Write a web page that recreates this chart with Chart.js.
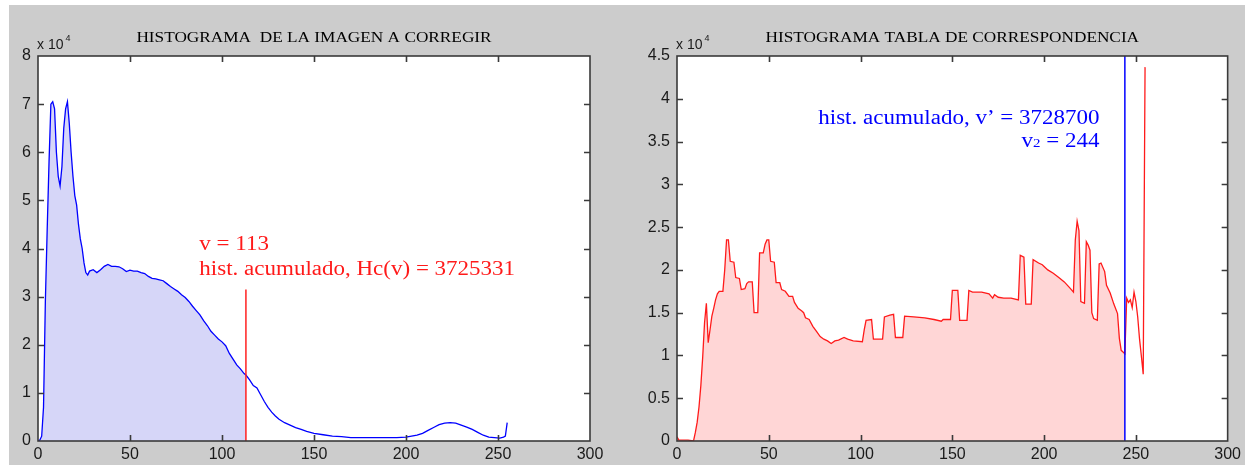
<!DOCTYPE html>
<html lang="es">
<head>
<meta charset="UTF-8">
<title>Histogramas</title>
<script src="https://cdn.jsdelivr.net/npm/chart.js"></script>
<style>
  html, body { margin: 0; padding: 0; background: #fff; width: 1245px; height: 465px; overflow: hidden; }
  #fondo { position: absolute; left: 9px; top: 5px; width: 1236px; height: 460px; background: #cccccc; }
  canvas { position: absolute; top: 5px; }
  #hist1 { left: 9px; }
  #hist2 { left: 627px; }
</style>
</head>
<body>
<div id="fondo"></div>
<canvas id="hist1" width="618" height="460"></canvas>
<canvas id="hist2" width="618" height="460"></canvas>
<script>
// --- datos (cuentas en unidades de 10^4) ---
const nivelesImagen = [0,1,2,3,4,5,6,7,8,9,10,11,12,13,14,15,16,17,18,19,20,21,22,23,24,25,26,27,28,30,32,34,36,38,40,42,44,46,48,50,52,54,56,58,60,62,64,66,68,70,72,74,76,78,80,82,84,86,88,90,92,94,96,98,100,102,104,106,108,110,112,113,115,117,119,121,123,125,127,129,131,134,137,140,143,146,150,155,160,165,170,180,190,195,200,203,206,209,212,215,218,221,224,227,230,233,236,239,242,245,248,251,253,254,255];
const cuentasImagen = [0,0.02,0.1,0.7,2.9,4.4,5.8,7.0,7.05,6.9,6.0,5.5,5.3,5.7,6.5,6.9,7.05,6.6,6.0,5.5,5.1,4.9,4.5,4.2,4.0,3.7,3.5,3.45,3.53,3.56,3.5,3.56,3.63,3.67,3.63,3.63,3.62,3.58,3.52,3.55,3.53,3.53,3.5,3.48,3.42,3.38,3.37,3.35,3.33,3.27,3.21,3.16,3.11,3.04,2.98,2.9,2.8,2.71,2.62,2.5,2.4,2.28,2.2,2.12,2.06,1.98,1.82,1.7,1.58,1.5,1.4,1.37,1.27,1.15,1.1,0.96,0.82,0.7,0.6,0.52,0.45,0.38,0.33,0.28,0.24,0.2,0.16,0.13,0.1,0.09,0.07,0.07,0.07,0.07,0.08,0.1,0.12,0.16,0.22,0.28,0.34,0.37,0.38,0.37,0.33,0.29,0.24,0.18,0.12,0.08,0.07,0.06,0.08,0.1,0.38];

const nivelesTabla = [0,1,6,9,10,11,12,13,14,15,16,17,18,19,20,21,22,23,25,26,27,28,29,31,32,34,35,37,38,39,41,42,44,45,47,48,49,50,51,53,54,56,57,59,61,63,64,66,68,69,70,72,74,76,78,80,82,84,86,88,91,93,96,101,102,103,106,107,112,113,116,118,119,123,124,129,135,140,144,145,149,150,153,154,158,159,161,166,170,172,173,175,178,182,186,187,189,190,193,194,197,199,200,202,205,208,211,214,216,217,218,219,220,222,223,224,225,226,227,229,230,231,233,234,236,238,240,241,242,243,244,245,246,247,248,249,250,251,252,253,254,255];
const cuentasTabla = [0.05,0.01,0.01,0,0.1,0.22,0.4,0.65,0.98,1.38,1.61,1.15,1.3,1.46,1.55,1.65,1.72,1.75,1.75,2.0,2.35,2.35,2.1,2.09,1.91,1.9,1.77,1.78,1.84,1.86,1.86,1.5,1.5,2.2,2.2,2.3,2.35,2.35,2.1,2.09,1.85,1.85,1.77,1.75,1.69,1.69,1.62,1.55,1.52,1.5,1.44,1.42,1.34,1.28,1.22,1.19,1.17,1.14,1.17,1.18,1.21,1.19,1.17,1.16,1.3,1.41,1.42,1.19,1.19,1.45,1.47,1.48,1.21,1.21,1.46,1.45,1.44,1.42,1.4,1.42,1.42,1.76,1.76,1.41,1.41,1.76,1.74,1.74,1.72,1.67,1.71,1.68,1.67,1.67,1.65,2.17,2.15,1.6,1.6,2.12,2.08,2.06,2.04,2.0,1.96,1.91,1.86,1.79,1.74,2.35,2.57,2.46,1.63,1.61,2.33,2.29,2.23,1.5,1.43,1.41,2.07,2.08,1.98,1.82,1.73,1.6,1.49,1.2,1.06,1.04,1.02,1.67,1.62,1.65,1.56,1.74,1.63,1.45,1.19,0.99,0.78,4.37];

const ticksX = [0, 50, 100, 150, 200, 250, 300];
const ticksYImagen = [0, 1, 2, 3, 4, 5, 6, 7, 8];
const ticksYTabla = [0, 0.5, 1, 1.5, 2, 2.5, 3, 3.5, 4, 4.5];

const corteImagen = 113;      // v
const alturaCorteImagen = 3.15;
const corteTabla = 244;       // v2

const puntos = (xs, ys) => xs.map((x, i) => ({ x: x, y: ys[i] }));

const ESTIRA = 1.15; // el texto serif del original sale algo ensanchado

function textoEstirado(ctx, str, x, y) {
  ctx.save();
  ctx.translate(x, y);
  ctx.scale(ESTIRA, 1);
  ctx.fillText(str, 0, 0);
  ctx.restore();
}

// ejes al estilo MATLAB: caja, marcas hacia dentro, titulo, x 10^4 y notas
const ejesMatlab = {
  id: 'matlab',
  beforeDraw(chart) {
    const { ctx, chartArea: a } = chart;
    ctx.save();
    ctx.fillStyle = '#ffffff';
    ctx.fillRect(a.left, a.top, a.right - a.left, a.bottom - a.top);
    ctx.restore();
  },
  afterDatasetsDraw(chart) {
    const { ctx, chartArea: a, scales: { x, y } } = chart;
    const L = 6;
    ctx.save();
    ctx.strokeStyle = '#3a3a3a';
    ctx.lineWidth = 1.6;
    ctx.beginPath();
    x.ticks.forEach(t => {
      const px = Math.round(x.getPixelForValue(t.value)) + 0.5;
      if (px <= a.left + 1 || px >= a.right - 1) return;
      ctx.moveTo(px, a.bottom); ctx.lineTo(px, a.bottom - L);
      ctx.moveTo(px, a.top); ctx.lineTo(px, a.top + L);
    });
    y.ticks.forEach(t => {
      const py = Math.round(y.getPixelForValue(t.value)) + 0.5;
      if (py <= a.top + 1 || py >= a.bottom - 1) return;
      ctx.moveTo(a.left, py); ctx.lineTo(a.left + L, py);
      ctx.moveTo(a.right, py); ctx.lineTo(a.right - L, py);
    });
    ctx.stroke();
    ctx.strokeRect(a.left, a.top, a.right - a.left, a.bottom - a.top);
    ctx.restore();
  },
  afterDraw(chart, args, opts) {
    const { ctx, chartArea: a, scales: { x, y } } = chart;
    ctx.save();
    // titulo
    ctx.fillStyle = '#000';
    ctx.font = '15px "Liberation Serif"';
    ctx.textAlign = 'center';
    ctx.textBaseline = 'middle';
    textoEstirado(ctx, opts.titulo, (a.left + a.right) / 2, a.top - 18);
    // factor x 10^4
    ctx.fillStyle = '#1a1a1a';
    ctx.textAlign = 'left';
    ctx.textBaseline = 'alphabetic';
    ctx.font = '14px "Liberation Sans"';
    ctx.fillText('x 10', a.left - 1, a.top - 7);
    const w = ctx.measureText('x 10').width;
    ctx.font = '9px "Liberation Sans"';
    ctx.fillText('4', a.left + w + 1, a.top - 15);
    // notas
    ctx.fillStyle = opts.colorNotas;
    opts.notas.forEach(n => {
      let total = 0;
      n.partes.forEach(p => {
        ctx.font = p.tam + 'px "Liberation Serif"';
        p.ancho = ctx.measureText(p.texto).width * ESTIRA;
        total += p.ancho;
      });
      let px = x.getPixelForValue(n.x);
      if (n.alinea === 'right') px -= total;
      const py = y.getPixelForValue(n.y);
      n.partes.forEach(p => {
        ctx.font = p.tam + 'px "Liberation Serif"';
        textoEstirado(ctx, p.texto, px, py);
        px += p.ancho;
      });
    });
    ctx.restore();
  }
};

function crearHistograma(id, cfg) {
  const fuenteTicks = { family: '"Liberation Sans"', size: 16 };
  const datos = puntos(cfg.niveles, cfg.cuentas);
  const relleno = datos.filter(p => p.x <= cfg.corte);
  new Chart(document.getElementById(id), {
    type: 'line',
    data: {
      datasets: [
        { data: cfg.linea, borderColor: cfg.colorLinea, borderWidth: 1.5, pointRadius: 0, fill: false, order: 0 },
        { data: datos, borderColor: cfg.colorCurva, borderWidth: 1.3, pointRadius: 0, fill: false, order: 1 },
        { data: relleno, borderColor: 'rgba(0,0,0,0)', borderWidth: 0, backgroundColor: cfg.colorRelleno, pointRadius: 0, fill: 'origin', order: 2 }
      ]
    },
    options: {
      responsive: false,
      animation: false,
      devicePixelRatio: 1,
      layout: { padding: { top: 51, right: cfg.margenDer, bottom: 0, left: 0 } },
      elements: { line: { tension: 0 } },
      plugins: {
        legend: { display: false },
        tooltip: { enabled: false },
        matlab: { titulo: cfg.titulo, notas: cfg.notas, colorNotas: cfg.colorNotas }
      },
      scales: {
        x: {
          type: 'linear', min: 0, max: 300,
          afterBuildTicks: s => { s.ticks = ticksX.map(v => ({ value: v })); },
          afterFit: s => { s.height = 24; },
          grid: { display: false, drawTicks: false },
          border: { display: false },
          ticks: { padding: 4, font: fuenteTicks, color: '#1a1a1a', maxRotation: 0, autoSkip: false, callback: v => String(v) }
        },
        y: {
          type: 'linear', min: 0, max: cfg.ticksY[cfg.ticksY.length - 1],
          afterBuildTicks: s => { s.ticks = cfg.ticksY.map(v => ({ value: v })); },
          afterFit: s => { s.width = cfg.anchoEjeY; },
          grid: { display: false, drawTicks: false },
          border: { display: false },
          ticks: { padding: 7, font: fuenteTicks, color: '#1a1a1a', autoSkip: false, callback: v => String(v) }
        }
      }
    },
    plugins: [ejesMatlab]
  });
}

crearHistograma('hist1', {
  titulo: 'HISTOGRAMA  DE LA IMAGEN A CORREGIR',
  niveles: nivelesImagen,
  cuentas: cuentasImagen,
  ticksY: ticksYImagen,
  corte: corteImagen,
  linea: [{ x: corteImagen, y: 0 }, { x: corteImagen, y: alturaCorteImagen }],
  colorLinea: '#ff2020',
  colorCurva: '#0000ff',
  colorRelleno: '#d6d6f8',
  colorNotas: '#ff1a1a',
  anchoEjeY: 29,
  margenDer: 37,
  notas: [
    { x: 87.7, y: 3.96, alinea: 'left', partes: [{ texto: 'v = 113', tam: 20 }] },
    { x: 87.7, y: 3.44, alinea: 'left', partes: [{ texto: 'hist. acumulado, Hc(v) = 3725331', tam: 20 }] }
  ]
});

crearHistograma('hist2', {
  titulo: 'HISTOGRAMA TABLA DE CORRESPONDENCIA',
  niveles: nivelesTabla,
  cuentas: cuentasTabla,
  ticksY: ticksYTabla,
  corte: corteTabla,
  linea: [{ x: corteTabla, y: 0 }, { x: corteTabla, y: 4.5 }],
  colorLinea: '#0000ff',
  colorCurva: '#ff1a1a',
  colorRelleno: '#ffd6d6',
  colorNotas: '#0000ff',
  anchoEjeY: 50,
  margenDer: 16,
  notas: [
    { x: 230.2, y: 3.705, alinea: 'right', partes: [{ texto: 'hist. acumulado, v\u2019 = 3728700', tam: 20 }] },
    { x: 230.2, y: 3.44, alinea: 'right', partes: [{ texto: 'v', tam: 20 }, { texto: '2', tam: 13 }, { texto: ' = 244', tam: 20 }] }
  ]
});
</script>
</body>
</html>
